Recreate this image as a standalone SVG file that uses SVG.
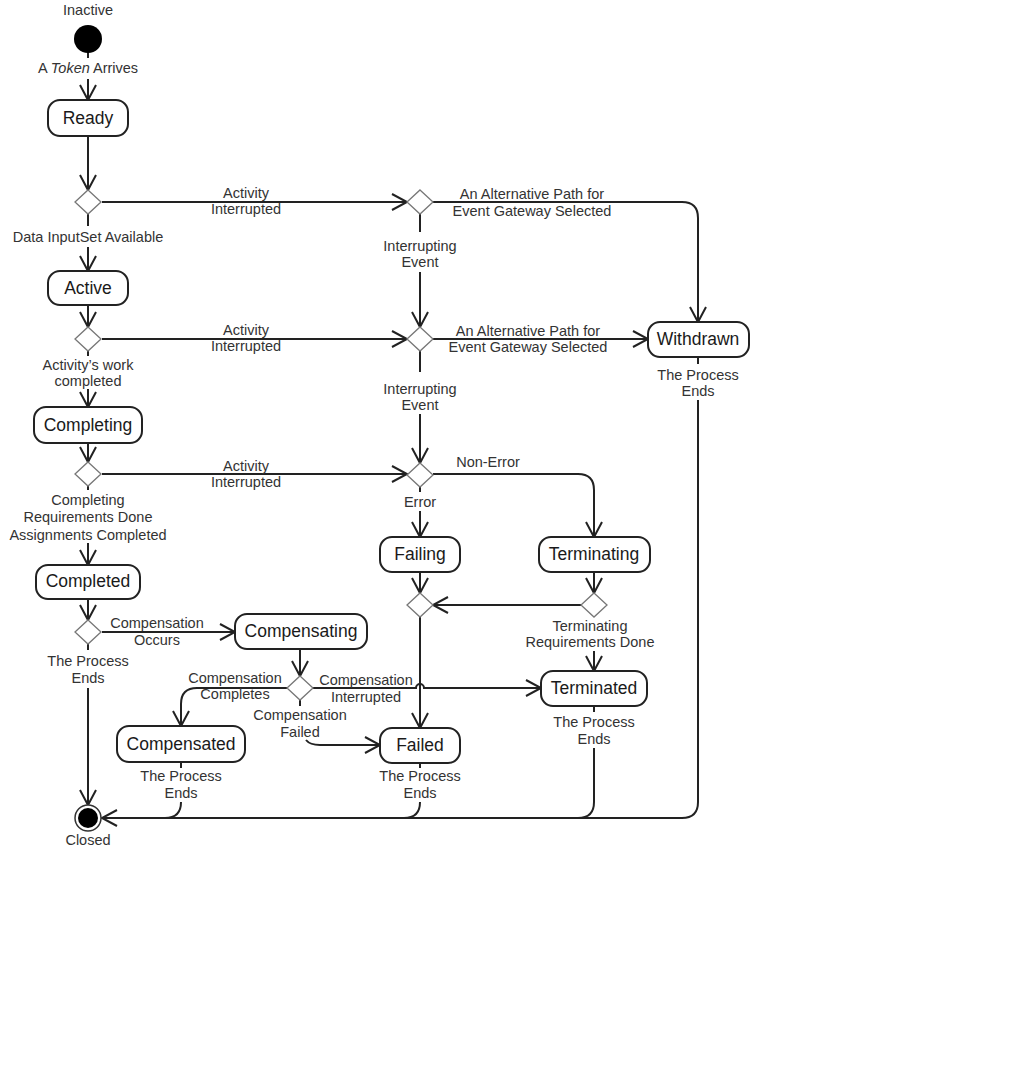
<svg xmlns="http://www.w3.org/2000/svg" width="1009" height="1092" viewBox="0 0 1009 1092">
<style>
.bg{fill:#fff}
.st rect{fill:#fff;stroke:#222;stroke-width:2}
.st text{font-family:"Liberation Sans",Arial,sans-serif;font-size:17.5px;fill:#1a1a1a;text-anchor:middle}
.dia{fill:#fff;stroke:#777;stroke-width:1.3}
.c path{fill:none;stroke:#222;stroke-width:2}
.lbl{font-family:"Liberation Sans",Arial,sans-serif;font-size:14.5px;fill:#333;text-anchor:middle}
.a{marker-end:url(#arr)}
</style>
<defs>
<marker id="arr" markerUnits="userSpaceOnUse" markerWidth="18" markerHeight="20" viewBox="-1 -1 18 20" refX="15" refY="8" orient="auto" overflow="visible">
<path d="M0,0 L15,8 L0,16" fill="none" stroke="#222" stroke-width="2"/>
</marker>
</defs>
<rect class="bg" x="0" y="0" width="1009" height="1092"/>

<g id="connectors" class="c">
<path d="M88,52 L88,58"/>
<path class="a" d="M88,79 L88,100"/>
<path class="a" d="M88,136 L88,190"/>
<path d="M88,214 L88,226"/>
<path class="a" d="M88,247 L88,271"/>
<path class="a" d="M88,305 L88,327"/>
<path d="M88,351 L88,356"/>
<path class="a" d="M88,389 L88,407"/>
<path class="a" d="M88,443 L88,462"/>
<path d="M88,486 L88,490"/>
<path class="a" d="M88,543 L88,565"/>
<path class="a" d="M88,598 L88,620"/>
<path d="M88,644 L88,650"/>
<path class="a" d="M88,688 L88,805"/>
<path class="a" d="M102,202 L407,202"/>
<path class="a" d="M102,339 L407,339"/>
<path class="a" d="M102,474 L407,474"/>
<path d="M420,214 L420,232"/>
<path class="a" d="M420,272 L420,327"/>
<path d="M420,351 L420,372"/>
<path class="a" d="M420,414 L420,463"/>
<path d="M420,487 L420,492"/>
<path class="a" d="M420,511 L420,537"/>
<path class="a" d="M433,474 L578,474 Q594,474 594,490 L594,537"/>
<path class="a" d="M433,202 L682,202 Q698,202 698,218 L698,322"/>
<path class="a" d="M433,339 L648,339"/>
<path class="a" d="M420,572 L420,593"/>
<path class="a" d="M594,572 L594,593"/>
<path class="a" d="M582,605 L433,605"/>
<path class="a" d="M594,651 L594,671"/>
<path class="a" d="M420,617 L420,728"/>
<path class="a" d="M102,632 L235,632"/>
<path class="a" d="M300,649 L300,676"/>
<path class="a" d="M287,688 L197,688 Q181,688 181,704 L181,726"/>
<path d="M300,700 L300,706"/>
<path class="a" d="M306,740 Q310,745 320,745 L380,745"/>
<path class="a" d="M313,688 L416,688 A4,4 0 0 1 424,688 L541,688"/>
<path d="M181,762 L181,768"/>
<path d="M181,802 Q181,818 165,818"/>
<path d="M420,763 L420,768"/>
<path d="M420,802 Q420,818 404,818"/>
<path d="M594,706 L594,712"/>
<path d="M594,748 L594,802 Q594,818 578,818"/>
<path d="M698,357 L698,364"/>
<path class="a" d="M698,400 L698,802 Q698,818 682,818 L102,818"/>
</g>

<g id="labels">
<text class="lbl" x="88" y="15">Inactive</text>
<text class="lbl" x="88" y="73">A <tspan font-style="italic">Token</tspan> Arrives</text>
<text class="lbl" x="88" y="242">Data InputSet Available</text>
<text class="lbl" x="88" y="370">Activity’s work</text>
<text class="lbl" x="88" y="386">completed</text>
<text class="lbl" x="88" y="505">Completing</text>
<text class="lbl" x="88" y="522">Requirements Done</text>
<text class="lbl" x="88" y="540">Assignments Completed</text>
<text class="lbl" x="88" y="666">The Process</text>
<text class="lbl" x="88" y="683">Ends</text>
<text class="lbl" x="88" y="845">Closed</text>
<text class="lbl" x="246" y="198">Activity</text>
<text class="lbl" x="246" y="214">Interrupted</text>
<text class="lbl" x="246" y="335">Activity</text>
<text class="lbl" x="246" y="351">Interrupted</text>
<text class="lbl" x="246" y="471">Activity</text>
<text class="lbl" x="246" y="487">Interrupted</text>
<text class="lbl" x="420" y="251">Interrupting</text>
<text class="lbl" x="420" y="267">Event</text>
<text class="lbl" x="420" y="394">Interrupting</text>
<text class="lbl" x="420" y="410">Event</text>
<text class="lbl" x="420" y="507">Error</text>
<text class="lbl" x="488" y="467">Non-Error</text>
<text class="lbl" x="532" y="199">An Alternative Path for</text>
<text class="lbl" x="532" y="216">Event Gateway Selected</text>
<text class="lbl" x="528" y="336">An Alternative Path for</text>
<text class="lbl" x="528" y="352">Event Gateway Selected</text>
<text class="lbl" x="698" y="380">The Process</text>
<text class="lbl" x="698" y="396">Ends</text>
<text class="lbl" x="590" y="631">Terminating</text>
<text class="lbl" x="590" y="647">Requirements Done</text>
<text class="lbl" x="594" y="727">The Process</text>
<text class="lbl" x="594" y="744">Ends</text>
<text class="lbl" x="157" y="628">Compensation</text>
<text class="lbl" x="157" y="645">Occurs</text>
<text class="lbl" x="235" y="683">Compensation</text>
<text class="lbl" x="235" y="699">Completes</text>
<text class="lbl" x="366" y="685">Compensation</text>
<text class="lbl" x="366" y="702">Interrupted</text>
<text class="lbl" x="300" y="720">Compensation</text>
<text class="lbl" x="300" y="737">Failed</text>
<text class="lbl" x="181" y="781">The Process</text>
<text class="lbl" x="181" y="798">Ends</text>
<text class="lbl" x="420" y="781">The Process</text>
<text class="lbl" x="420" y="798">Ends</text>
</g>

<g id="initial"><circle cx="88" cy="39" r="14" fill="#000"/></g>
<g id="final"><circle cx="88" cy="818" r="13" fill="#fff" stroke="#333" stroke-width="1.5"/><circle cx="88" cy="818" r="10" fill="#000"/></g>

<g id="ready" class="st"><rect x="48" y="100" width="80" height="36" rx="12"/><text x="88" y="124">Ready</text></g>
<g id="active" class="st"><rect x="48" y="271" width="80" height="34" rx="12"/><text x="88" y="294">Active</text></g>
<g id="completing" class="st"><rect x="34" y="407" width="108" height="36" rx="12"/><text x="88" y="431">Completing</text></g>
<g id="completed" class="st"><rect x="36" y="565" width="104" height="34" rx="12"/><text x="88" y="587">Completed</text></g>
<g id="compensating" class="st"><rect x="235" y="614" width="132" height="35" rx="12"/><text x="301" y="637">Compensating</text></g>
<g id="compensated" class="st"><rect x="117" y="726" width="128" height="36" rx="12"/><text x="181" y="750">Compensated</text></g>
<g id="failed" class="st"><rect x="380" y="728" width="80" height="35" rx="12"/><text x="420" y="751">Failed</text></g>
<g id="failing" class="st"><rect x="380" y="537" width="80" height="35" rx="12"/><text x="420" y="560">Failing</text></g>
<g id="terminating" class="st"><rect x="539" y="537" width="111" height="35" rx="12"/><text x="594" y="560">Terminating</text></g>
<g id="terminated" class="st"><rect x="541" y="671" width="106" height="35" rx="12"/><text x="594" y="694">Terminated</text></g>
<g id="withdrawn" class="st"><rect x="648" y="322" width="101" height="35" rx="12"/><text x="698" y="345">Withdrawn</text></g>

<g id="gateways">
<path class="dia" d="M88,190 L101,202 L88,214 L75,202 Z"/>
<path class="dia" d="M88,327 L101,339 L88,351 L75,339 Z"/>
<path class="dia" d="M88,462 L101,474 L88,486 L75,474 Z"/>
<path class="dia" d="M88,620 L101,632 L88,644 L75,632 Z"/>
<path class="dia" d="M420,190 L433,202 L420,214 L407,202 Z"/>
<path class="dia" d="M420,327 L433,339 L420,351 L407,339 Z"/>
<path class="dia" d="M420,463 L433,475 L420,487 L407,475 Z"/>
<path class="dia" d="M420,593 L433,605 L420,617 L407,605 Z"/>
<path class="dia" d="M594,593 L607,605 L594,617 L581,605 Z"/>
<path class="dia" d="M300,676 L313,688 L300,700 L287,688 Z"/>
</g>
</svg>
